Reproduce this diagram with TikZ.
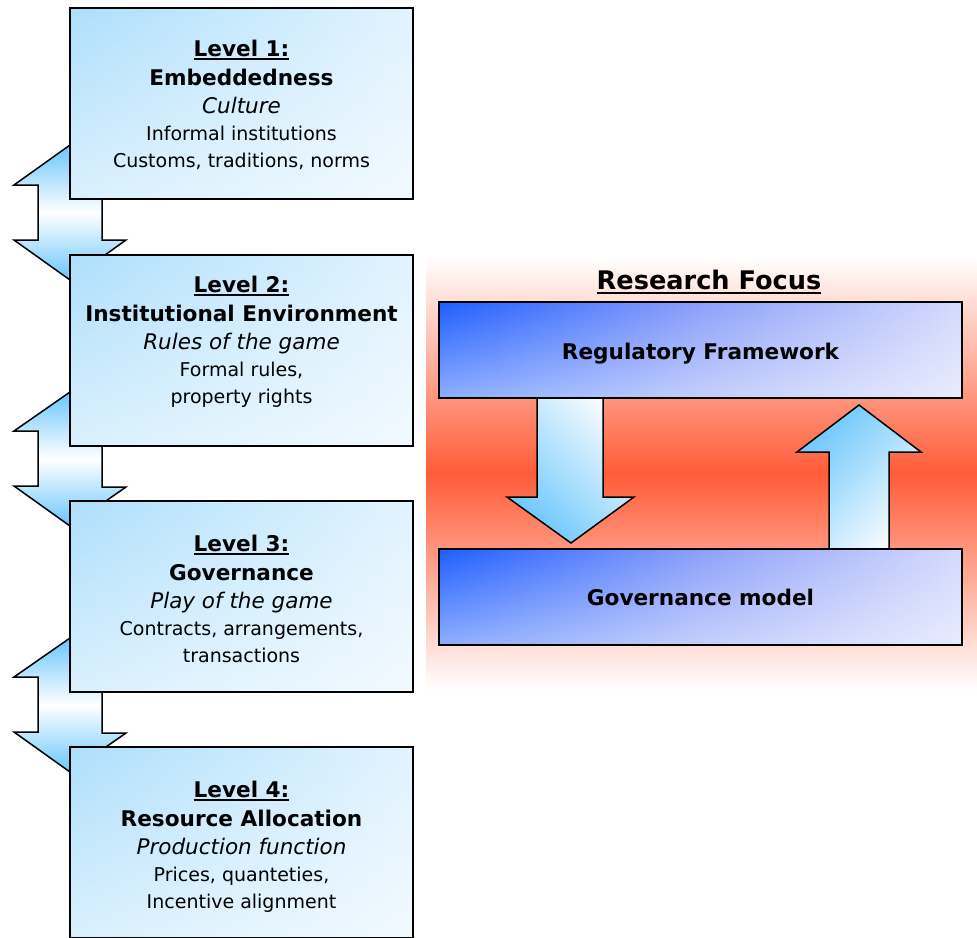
\documentclass[tikz,border=0pt]{standalone}
\usepackage{fontspec}
\setmainfont{DejaVu Sans}
\usetikzlibrary{calc,fadings}
\pgfdeclarelayer{bg}
\pgfdeclarelayer{mid}
\pgfsetlayers{bg,mid,main}
\definecolor{lboxA}{RGB}{174,223,252}
\definecolor{lboxM}{RGB}{200,234,253}
\definecolor{lboxB}{RGB}{226,243,254}
\definecolor{rboxA}{RGB}{30,94,255}
\definecolor{rboxM}{RGB}{140,160,250}
\definecolor{rboxB}{RGB}{212,218,252}
\definecolor{arrA}{RGB}{105,198,252}
\definecolor{arrB}{RGB}{246,251,255}
\definecolor{bgred}{RGB}{255,92,56}
\newcommand\myul[3]{\setbox0=\hbox{#3}\rlap{\rule[#1]{\wd0}{#2}}\box0}
\tikzset{
  lbox/.style={minimum width=343pt, minimum height=191pt, inner sep=0pt, outer sep=0pt,
    left color=lboxA, right color=lboxB, middle color=lboxM},
  rbox/.style={minimum width=523pt, minimum height=96pt, inner sep=0pt, outer sep=0pt,
    left color=rboxA, right color=rboxB, middle color=rboxM},
  veil/.style={fill=white, path fading=north},
  border/.style={draw=black, line width=1.6pt},
  ldarrow/.style={draw=black, line width=1.5pt, line join=miter,
    top color=arrA, bottom color=arrA, middle color=white},
  downarrow/.style={draw=black, line width=1.5pt, line join=miter,
    top color=arrB, bottom color=arrA, shading angle=-45},
  uparrow/.style={draw=black, line width=1.5pt, line join=miter,
    top color=arrA, bottom color=arrB, shading angle=45},
  lvl/.style={anchor=base, inner sep=0pt, font=\fontsize{21.6}{26}\selectfont\bfseries},
  ttl/.style={anchor=base, inner sep=0pt, font=\fontsize{21.6}{26}\selectfont\bfseries},
  itl/.style={anchor=base, inner sep=0pt, font=\fontsize{21.5}{26}\selectfont\itshape},
  nrm/.style={anchor=base, inner sep=0pt, font=\fontsize{19}{23}\selectfont},
  rtitle/.style={anchor=base, inner sep=0pt, font=\fontsize{25.6}{30}\selectfont\bfseries},
}
\begin{document}
\begin{tikzpicture}[x=1pt, y=-1pt]
\useasboundingbox (0,0) rectangle (977,937);

% boxes
\node[lbox] (b1) at (241.5,103.5) {};
\node[lbox] (b2) at (241.5,350.5) {};
\node[lbox] (b3) at (241.5,596.5) {};
\node[lbox] (b4) at (241.5,842.5) {};
\node[rbox] (reg) at (700.5,350) {};
\node[rbox] (gov) at (700.5,597) {};
\foreach \b/\o in {b1/0.55,b2/0.55,b3/0.55,b4/0.55,reg/0.5,gov/0.5}{
  \fill[veil, fill opacity=\o] (\b.south west) rectangle (\b.north east);
  \draw[border] (\b.south west) rectangle (\b.north east);
}

\begin{pgfonlayer}{bg}
\path[top color=white, bottom color=white, middle color=bgred] (426,257) rectangle (977,690);
\end{pgfonlayer}

\begin{pgfonlayer}{mid}
% double arrows behind boxes
\draw[ldarrow] ($(b1.south west)+(0,-54)$) -- ++(56,40) -- ++(-24,0) -- ++(0,55) -- ++(24,0)
  -- ($(b2.north west)+(0,25)$) -- ++(-56,-40) -- ++(24,0) -- ++(0,-55) -- ++(-24,0) -- cycle;
\draw[ldarrow] ($(b2.south west)+(0,-54)$) -- ++(56,40) -- ++(-24,0) -- ++(0,55) -- ++(24,0)
  -- ($(b3.north west)+(0,25)$) -- ++(-56,-40) -- ++(24,0) -- ++(0,-55) -- ++(-24,0) -- cycle;
\draw[ldarrow] ($(b3.south west)+(0,-54)$) -- ++(56,40) -- ++(-24,0) -- ++(0,55) -- ++(24,0)
  -- ($(b4.north west)+(0,25)$) -- ++(-56,-40) -- ++(24,0) -- ++(0,-55) -- ++(-24,0) -- cycle;
% right arrows
\draw[downarrow] ($(reg.south west)+(98,0)$) -- ++(66,0) -- ++(0,99) -- ++(31,0)
  -- ($(gov.north west)+(132,-6)$) -- ++(-64,-46) -- ++(30,0) -- cycle;
\draw[uparrow] ($(gov.north west)+(390,0)$) -- ++(0,-97) -- ++(-32,0)
  -- ($(reg.south west)+(420,7)$) -- ++(62,47) -- ++(-32,0) -- ++(0,97) -- cycle;
\end{pgfonlayer}

% box 1 text
\node[lvl] (t11) at (241.5,56) {\myul{-4pt}{1.7pt}{Level 1:}};
\node[lvl] (t12) at (241.5,85) {Embeddedness};
\node[itl] (t13) at (241.5,113) {Culture};
\node[nrm] (t14) at (241.5,140) {Informal institutions};
\node[nrm] (t15) at (241.5,167) {Customs, traditions, norms};
% box 2 text
\node[lvl] (t21) at (241.5,292) {\myul{-4pt}{1.7pt}{Level 2:}};
\node[lvl] (t22) at (241.5,321) {Institutional Environment};
\node[itl] (t23) at (241.5,349) {Rules of the game};
\node[nrm] (t24) at (241.5,376) {Formal rules,};
\node[nrm] (t25) at (241.5,403) {property rights};
% box 3 text
\node[lvl] (t31) at (241.5,551) {\myul{-4pt}{1.7pt}{Level 3:}};
\node[lvl] (t32) at (241.5,580) {Governance};
\node[itl] (t33) at (241.5,608) {Play of the game};
\node[nrm] (t34) at (241.5,635) {Contracts, arrangements,};
\node[nrm] (t35) at (241.5,662) {transactions};
% box 4 text
\node[lvl] (t41) at (241.5,797) {\myul{-4pt}{1.7pt}{Level 4:}};
\node[lvl] (t42) at (241.5,826) {Resource Allocation};
\node[itl] (t43) at (241.5,854) {Production function};
\node[nrm] (t44) at (241.5,881) {Prices, quanteties,};
\node[nrm] (t45) at (241.5,908) {Incentive alignment};

% right side text
\node[rtitle] (rf) at (709,289) {\myul{-5pt}{2.2pt}{Research Focus}};
\node[ttl] (regt) at (700.5,359) {Regulatory Framework};
\node[ttl] (govt) at (700.5,605) {Governance model};
\end{tikzpicture}
\end{document}
